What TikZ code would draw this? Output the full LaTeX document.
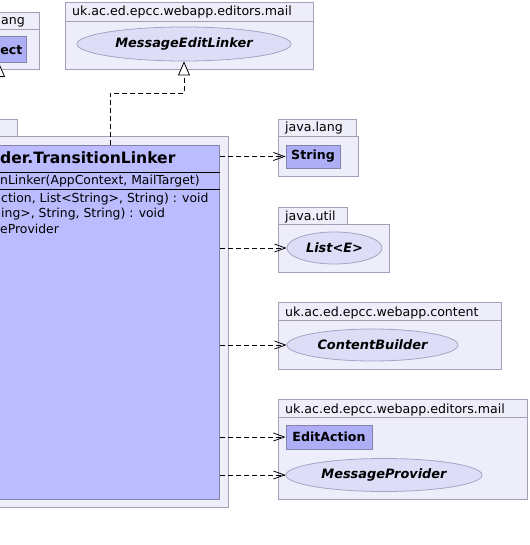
\documentclass[tikz,border=0pt]{standalone}
\usepackage{fontspec}
\setmainfont{DejaVu Sans}
\usetikzlibrary{arrows.meta,shapes.geometric}

\definecolor{pkgfill}{HTML}{EEEEFA}
\definecolor{pkgline}{HTML}{A39FB8}
\definecolor{clsfill}{HTML}{BBBBFF}
\definecolor{boxfill}{HTML}{AEAEF6}
\definecolor{clsline}{HTML}{8484A8}
\definecolor{ifcfill}{HTML}{DDDDF8}
\definecolor{ifcline}{HTML}{A4A4C4}

\begin{document}
\begin{tikzpicture}[x=1pt, y=-1pt,
  pkg/.style={draw=pkgline, fill=pkgfill, line width=0.9pt},
  pkglabel/.style={anchor=base west, inner sep=0pt, font=\fontsize{12.6}{14}\selectfont},
  member/.style={anchor=base west, inner sep=0pt, font=\fontsize{12.4}{14}\selectfont},
  cls/.style={draw=clsline, fill=clsfill, line width=0.9pt, inner sep=0pt},
  smallcls/.style={draw=clsline, fill=boxfill, line width=0.9pt, inner sep=0pt,
    font=\bfseries\fontsize{12.6}{14}\selectfont},
  ifc/.style={ellipse, draw=ifcline, fill=ifcfill, line width=0.8pt, inner sep=0pt,
    font=\bfseries\itshape\fontsize{12.9}{14}\selectfont},
  dep/.style={dashed, dash pattern=on 5pt off 3pt, line width=0.8pt,
    -{Straight Barb[length=11pt, width=8pt, line width=0.8pt]}},
  realize/.style={dashed, dash pattern=on 5pt off 3pt, line width=0.8pt,
    -{Triangle[open, fill=white, length=14pt, width=12pt, line width=0.8pt]}}]
  \useasboundingbox (0,0) rectangle (529,545);
  \clip (0,0) rectangle (529,545);

  % java.lang (left, cut off)
  \draw[pkg] (-80,12) rectangle (39,29);
  \draw[pkg] (-80,29) rectangle (39,69);
  \node[pkglabel] at (1,25) {ang};
  \node[smallcls, minimum width=67pt, minimum height=26pt, anchor=north east] (object) at (27,36) {};
  \node[anchor=base east, inner sep=0pt, font=\bfseries\fontsize{12.6}{14}\selectfont] at (22.5,55) {ect};
  \coordinate (objfoot) at (-1,120);
  \draw[realize] (objfoot) -- (objfoot |- object.south);

  % editors.mail (top)
  \draw[pkg] (65,2) rectangle (313,21);
  \draw[pkg] (65,21) rectangle (313,69);
  \node[pkglabel] at (72,16) {uk.ac.ed.epcc.webapp.editors.mail};
  \node[ifc, minimum width=214pt, minimum height=34pt] (mel) at (184,44) {MessageEditLinker};

  % package of the main class
  \draw[pkg] (-80,119) rectangle (17,136);
  \draw[pkg] (-80,136) rectangle (228,507);

  % main class
  \node[cls, minimum width=300pt, minimum height=354pt, anchor=north east] (linker) at (220,145) {};
  \draw[black, line width=0.9pt] (-80,172) -- (219.5,172);
  \draw[black, line width=0.9pt] (-80,189) -- (219.5,189);
  \node[anchor=base west, inner sep=0pt, font=\bfseries\fontsize{15.6}{18}\selectfont] at (0,164) {der.TransitionLinker};
  \node[member] at (0,185) {nLinker(AppContext, MailTarget)};
  \node[member] at (1,202) {ction, List<String>, String) : void};
  \node[member] at (1,217) {ing>, String, String) : void};
  \node[member] at (0,233) {eProvider};

  % java.lang (right)
  \draw[pkg] (278,119) rectangle (356,136);
  \draw[pkg] (278,136) rectangle (358,176);
  \node[pkglabel] at (285,132) {java.lang};
  \node[smallcls, minimum width=54pt, minimum height=23pt] (string) at (313,156.5) {String};

  % java.util
  \draw[pkg] (278,207) rectangle (347,224);
  \draw[pkg] (278,224) rectangle (389,272);
  \node[pkglabel] at (285,220) {java.util};
  \node[ifc, minimum width=95pt, minimum height=32pt] (list) at (334.5,248) {List<E>};

  % webapp.content
  \draw[pkg] (278,302) rectangle (501,320);
  \draw[pkg] (278,320) rectangle (501,369);
  \node[pkglabel] at (285,316) {uk.ac.ed.epcc.webapp.content};
  \node[ifc, minimum width=171pt, minimum height=32pt] (content) at (372.5,345) {ContentBuilder};

  % editors.mail (bottom)
  \draw[pkg] (278,399) rectangle (527,417);
  \draw[pkg] (278,417) rectangle (527,499);
  \node[pkglabel] at (285,413) {uk.ac.ed.epcc.webapp.editors.mail};
  \node[smallcls, minimum width=86pt, minimum height=24pt] (editaction) at (329,437) {EditAction};
  \node[ifc, minimum width=196pt, minimum height=33pt] (provider) at (384,475) {MessageProvider};

  % realization
  \coordinate (bend) at (110,93);
  \draw[realize] (bend |- linker.north) -- (bend) -| (mel.south);

  % dependencies
  \draw[dep] (string -| linker.east) -- (string.west);
  \draw[dep] (list -| linker.east) -- (list.west);
  \draw[dep] (content -| linker.east) -- (content.west);
  \draw[dep] (editaction -| linker.east) -- (editaction.west);
  \draw[dep] (provider -| linker.east) -- (provider.west);
\end{tikzpicture}
\end{document}
